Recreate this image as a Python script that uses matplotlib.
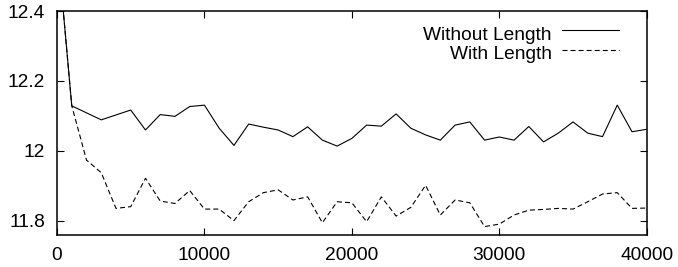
import matplotlib
matplotlib.use("Agg")

import matplotlib.pyplot as plt
import numpy as np

# x positions of the samples (every 1000 steps)
steps = np.arange(0, 41000, 1000)

# values
without_length = [12.60, 12.129, 12.109, 12.089, 12.103, 12.117, 12.060, 12.104, 12.099, 12.127,
                  12.131, 12.065, 12.016, 12.077, 12.068, 12.060, 12.041, 12.069, 12.031, 12.014,
                  12.036, 12.074, 12.071, 12.106, 12.065, 12.046, 12.031, 12.074, 12.083, 12.031,
                  12.040, 12.031, 12.070, 12.026, 12.051, 12.083, 12.051, 12.041, 12.131, 12.055,
                  12.062]
with_length = [12.60, 12.129, 11.974, 11.938, 11.836, 11.841, 11.922, 11.857, 11.850, 11.887,
               11.834, 11.834, 11.801, 11.855, 11.881, 11.889, 11.860, 11.869, 11.795, 11.855,
               11.852, 11.798, 11.869, 11.814, 11.839, 11.902, 11.817, 11.860, 11.852, 11.784,
               11.791, 11.817, 11.831, 11.833, 11.836, 11.834, 11.855, 11.877, 11.881, 11.836,
               11.837]

series_names = ["Without Length", "With Length"]
x_ticks = [0, 10000, 20000, 30000, 40000]
y_ticks = [11.8, 12.0, 12.2, 12.4]
y_tick_labels = ["11.8", "12", "12.2", "12.4"]

plt.rcParams["font.family"] = ["Liberation Sans", "DejaVu Sans"]
plt.rcParams["lines.scale_dashes"] = False

FS = 13.8

fig = plt.figure(figsize=(6.78, 2.67), dpi=100)
ax = fig.add_axes([0.0841, 0.1199, 0.8698, 0.8389])

dash = (3.6, 2.2)
ax.plot(steps, without_length, color="black", lw=0.8)
ax.plot(steps, with_length, color="black", lw=0.8, dashes=dash)

ax.set_xlim(0, 40000)
ax.set_ylim(11.76, 12.4)
ax.set_xticks(x_ticks)
ax.set_xticklabels([str(t) for t in x_ticks])
ax.set_yticks(y_ticks)
ax.set_yticklabels(y_tick_labels)

ax.tick_params(direction="in", length=5, width=0.8, top=True, right=True,
               labelsize=FS, colors="black")
ax.tick_params(axis="x", pad=9)
ax.tick_params(axis="y", pad=8.5)
for sp in ax.spines.values():
    sp.set_linewidth(1.1)

# gnuplot style key: right-aligned names with a sample line after them
text_y = [0.8705, 0.7844]
line_y = [0.915, 0.826]
styles = [dict(), dict(dashes=dash)]
for name, ty, ly, st in zip(series_names, text_y, line_y, styles):
    ax.text(0.8385, ty, name, transform=ax.transAxes, ha="right", va="baseline",
            fontsize=FS)
    ax.plot([0.8571, 0.9525], [ly, ly], transform=ax.transAxes, color="black",
            lw=0.8, **st)

fig.savefig("out.png", dpi=100)
